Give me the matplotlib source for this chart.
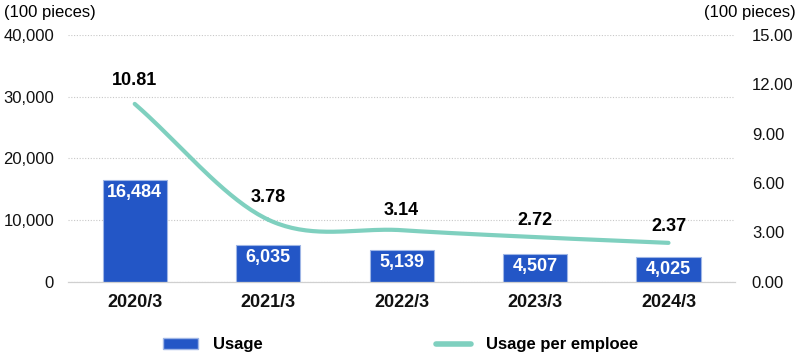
import numpy as np
import matplotlib
matplotlib.use('Agg')
import matplotlib.pyplot as plt
from matplotlib.patches import Patch
from matplotlib.lines import Line2D

# данные
years = ['2020/3', '2021/3', '2022/3', '2023/3', '2024/3']
usage = [16484, 6035, 5139, 4507, 4025]
per_employee = [10.81, 3.78, 3.14, 2.72, 2.37]

bar_color = '#2356c6'
line_color = '#7fd0bf'

plt.rcParams['font.family'] = ['Liberation Sans', 'DejaVu Sans']

fig = plt.figure(figsize=(8, 3.6), dpi=100)
ax = fig.add_axes([0.085, 0.217, 0.834, 0.686])
ax2 = ax.twinx()

x = np.arange(len(years))
ax.bar(x, usage, width=0.48, color=bar_color, edgecolor='#9fb6e6', linewidth=0.8, zorder=2)
for xi, v in zip(x, usage):
    ax.text(xi, v - 650, f'{v:,}', ha='center', va='top', color='white',
            fontsize=13, fontweight='bold', zorder=3)

ax.set_ylim(0, 40000)
ax.set_yticks(np.arange(0, 40001, 10000))
ax.set_yticklabels([f'{t:,}' for t in range(0, 40001, 10000)])
ax.set_xlim(-0.5, len(years) - 0.5)
ax.set_xticks(x)
ax.set_xticklabels(years, fontweight='bold')
ax.grid(axis='y', color='#c8c8c8', linestyle=(0, (1, 1.5)), linewidth=0.8, zorder=0)
ax.set_axisbelow(True)

# сглаженная линия (Catmull-Rom)
def smooth(xs, ys, n=40):
    px = np.concatenate([[2 * xs[0] - xs[1]], xs, [2 * xs[-1] - xs[-2]]])
    py = np.concatenate([[2 * ys[0] - ys[1]], ys, [2 * ys[-1] - ys[-2]]])
    ox, oy = [], []
    for i in range(1, len(px) - 2):
        t = np.linspace(0, 1, n)
        for arr, out in ((px, ox), (py, oy)):
            p0, p1, p2, p3 = arr[i - 1:i + 3]
            out.extend(0.5 * (2 * p1 + (-p0 + p2) * t + (2 * p0 - 5 * p1 + 4 * p2 - p3) * t ** 2
                              + (-p0 + 3 * p1 - 3 * p2 + p3) * t ** 3))
    return np.array(ox), np.array(oy)

sx, sy = smooth(x.astype(float), np.array(per_employee))
ax2.plot(sx, sy, color=line_color, linewidth=3, solid_capstyle='round', zorder=4)
offsets = [17, 16, 14, 12, 12]
for xi, v, off in zip(x, per_employee, offsets):
    ax2.annotate(f'{v:.2f}', (xi, v), xytext=(0, off), textcoords='offset points',
                 ha='center', va='center', fontsize=13, fontweight='bold')

ax2.set_ylim(0, 15)
ax2.set_yticks(np.arange(0, 15.1, 3))
ax2.set_yticklabels([f'{t:.2f}' for t in np.arange(0, 15.1, 3)])

for a in (ax, ax2):
    for s in ('top', 'left', 'right'):
        a.spines[s].set_visible(False)
    a.spines['bottom'].set_color('#d0d0d0')
    a.tick_params(length=0, labelsize=12, colors='#111111')
ax.tick_params(axis='x', labelsize=13, pad=9)
ax.tick_params(axis='y', pad=10)
ax2.tick_params(axis='y', pad=12)

fig.text(0.005, 0.985, '(100 pieces)', ha='left', va='top', fontsize=12)
fig.text(0.995, 0.985, '(100 pieces)', ha='right', va='top', fontsize=12)

handles = [Patch(facecolor=bar_color, edgecolor='#9fb6e6'),
           Line2D([0], [0], color=line_color, linewidth=4, solid_capstyle='round')]
fig.legend(handles, ['Usage', 'Usage per emploee'], loc='center', bbox_to_anchor=(0.501, 0.042),
           ncol=2, frameon=False, columnspacing=10.4, handlelength=2.1, handletextpad=0.9,
           prop={'weight': 'bold', 'size': 12})

fig.savefig('out.png', dpi=100)
